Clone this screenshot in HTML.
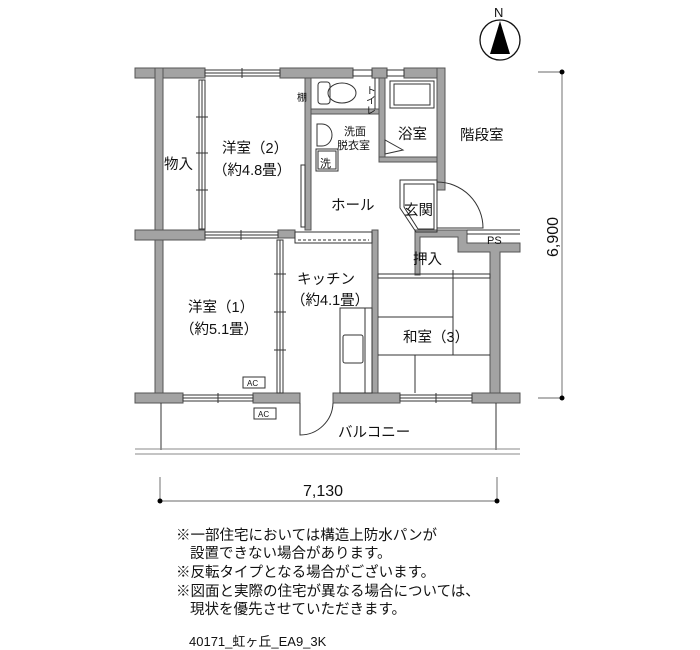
<!DOCTYPE html>
<html><head><meta charset="utf-8"><style>
html,body{margin:0;padding:0;background:#fff;}
svg{display:block;}
text{font-family:"Liberation Sans","Noto Sans CJK JP",sans-serif;fill:#111;}
</style></head><body>
<svg width="700" height="650" viewBox="0 0 700 650" xmlns="http://www.w3.org/2000/svg">
<g fill="#a3a3a3" stroke="#555" stroke-width="1">
<rect x="135" y="68" width="70" height="10"/>
<rect x="280" y="68" width="73" height="10"/>
<rect x="372" y="68" width="15" height="10"/>
<rect x="404" y="68" width="41" height="10"/>
<rect x="155" y="68" width="8" height="334"/>
<rect x="437" y="68" width="8" height="122"/>
<rect x="135" y="230" width="70" height="10"/>
<rect x="278" y="230" width="17" height="8"/>
<rect x="305" y="78" width="6" height="152"/>
<rect x="379" y="78" width="6" height="82"/>
<rect x="379" y="157" width="58" height="5"/>
<rect x="311" y="109" width="68" height="5"/>
<rect x="372" y="230" width="6" height="164"/>
<path d="M415 230 H467 V243 H520 V252 H500 V394 H490 V252 H458 V237 H420 V275 H415 Z"/>
<rect x="135" y="393" width="48" height="10"/>
<rect x="253" y="393" width="47" height="10"/>
<rect x="333" y="393" width="67" height="10"/>
<rect x="472" y="393" width="48" height="10"/>
</g>
<g fill="none" stroke="#333" stroke-width="1">
<rect x="205" y="70" width="75" height="6"/><line x1="205" y1="73" x2="280" y2="73"/><line x1="242" y1="68" x2="242" y2="78"/>
<rect x="353" y="70" width="19" height="6"/>
<rect x="387" y="70" width="17" height="6"/>
<rect x="205" y="232" width="73" height="6"/><line x1="205" y1="235" x2="278" y2="235"/><line x1="241" y1="230" x2="241" y2="240"/>
<rect x="183" y="395" width="70" height="6"/><line x1="183" y1="398" x2="253" y2="398"/><line x1="218" y1="393" x2="218" y2="403"/>
<rect x="400" y="395" width="72" height="6"/><line x1="400" y1="398" x2="472" y2="398"/><line x1="436" y1="393" x2="436" y2="403"/>
<rect x="199" y="80" width="6" height="149"/><line x1="202" y1="80" x2="202" y2="229"/>
<line x1="196" y1="117" x2="208" y2="117"/><line x1="196" y1="153" x2="208" y2="153"/><line x1="196" y1="190" x2="208" y2="190"/>
<rect x="277" y="240" width="6" height="153"/><line x1="280" y1="240" x2="280" y2="393"/>
<line x1="274" y1="274" x2="286" y2="274"/><line x1="274" y1="312" x2="286" y2="312"/><line x1="274" y1="350" x2="286" y2="350"/>
<rect x="295" y="232" width="77" height="11"/><line x1="298" y1="240" x2="369" y2="240" stroke-dasharray="3,2"/>
<rect x="301" y="165" width="4" height="62"/>
<rect x="318" y="82" width="12" height="22" rx="3"/><ellipse cx="342" cy="93" rx="14" ry="10"/>
<line x1="375" y1="78" x2="375" y2="109"/>
<path d="M317 124 H322 A10 11 0 0 1 322 146 H317 Z"/>
<rect x="318" y="151" width="18" height="18"/><rect x="316" y="149" width="22" height="22"/>
<rect x="390" y="81" width="44" height="27"/><rect x="394" y="84" width="36" height="21"/>
<path d="M385 140 V154 L403 150 Z"/>
<path d="M400 180 H437 V232 H416 L400 208 Z"/><path d="M404 184 H434 V229 H418 L404 207 Z"/>
<path d="M437 228 H483 A46 46 0 0 0 437 182"/>
<line x1="467" y1="230" x2="520" y2="230"/><line x1="467" y1="234" x2="520" y2="234"/>
<rect x="378" y="274" width="112" height="4"/><line x1="453" y1="270" x2="453" y2="282"/>
<line x1="453" y1="278" x2="453" y2="355"/><line x1="378" y1="317" x2="453" y2="317"/>
<line x1="378" y1="355" x2="490" y2="355"/><line x1="415" y1="355" x2="415" y2="393"/>
<rect x="340" y="308" width="32" height="85"/><line x1="365" y1="308" x2="365" y2="393"/>
<rect x="343" y="335" width="20" height="28" rx="2"/>
<rect x="243" y="377" width="22" height="11"/><rect x="254" y="408" width="22" height="11"/>
<path d="M300 403 V435 A33 33 0 0 0 333 403"/>
<line x1="161" y1="403" x2="161" y2="450"/><line x1="496" y1="403" x2="496" y2="450"/>
<line x1="135" y1="449" x2="520" y2="449" stroke="#888"/><line x1="135" y1="454" x2="520" y2="454" stroke="#888"/>
</g>
<text x="247" y="386" font-size="8">AC</text><text x="258" y="417" font-size="8">AC</text>
<g font-size="14.5">
<text x="164" y="169">物入</text>
<text x="222" y="153">洋室（2）</text>
<text x="213" y="175">（約4.8畳）</text>
<text x="331" y="210">ホール</text>
<text x="398" y="139">浴室</text>
<text x="460" y="140">階段室</text>
<text x="404" y="215">玄関</text>
<text x="413" y="264">押入</text>
<text x="188" y="312">洋室（1）</text>
<text x="180" y="334">（約5.1畳）</text>
<text x="297" y="284">キッチン</text>
<text x="291" y="305">（約4.1畳）</text>
<text x="403" y="342">和室（3）</text>
<text x="338" y="437">バルコニー</text>
</g>
<text x="344" y="135" font-size="11">洗面</text>
<text x="337" y="149" font-size="11">脱衣室</text>
<text x="320" y="167" font-size="11">洗</text>
<text x="297" y="101" font-size="10">棚</text>
<text x="369" y="85" font-size="10" writing-mode="tb">トイレ</text>
<text x="487" y="244" font-size="11">PS</text>
<circle cx="500" cy="40" r="20" fill="none" stroke="#111" stroke-width="1.3"/>
<path d="M500 21 L490 54 H510 Z" fill="#000"/>
<text x="494" y="17" font-size="13">N</text>
<g stroke="#888" stroke-width="1.2" fill="none">
<line x1="562" y1="72" x2="562" y2="398"/><line x1="538" y1="72" x2="562" y2="72"/><line x1="538" y1="398" x2="562" y2="398"/>
<line x1="160" y1="501" x2="497" y2="501"/><line x1="160" y1="477" x2="160" y2="501"/><line x1="497" y1="477" x2="497" y2="501"/>
</g>
<g fill="#000"><circle cx="562" cy="72" r="2.5"/><circle cx="562" cy="398" r="2.5"/><circle cx="160" cy="501" r="2.5"/><circle cx="497" cy="501" r="2.5"/></g>
<text x="303" y="496" font-size="16">7,130</text>
<text transform="translate(558,257) rotate(-90)" font-size="16">6,900</text>
<g font-size="14.5">
<text x="176" y="540">※一部住宅においては構造上防水パンが</text>
<text x="190" y="558">設置できない場合があります。</text>
<text x="176" y="577">※反転タイプとなる場合がございます。</text>
<text x="176" y="596">※図面と実際の住宅が異なる場合については、</text>
<text x="190" y="614">現状を優先させていただきます。</text>
</g>
<text x="189" y="646" font-size="13">40171_虹ヶ丘_EA9_3K</text>
</svg>
</body></html>
